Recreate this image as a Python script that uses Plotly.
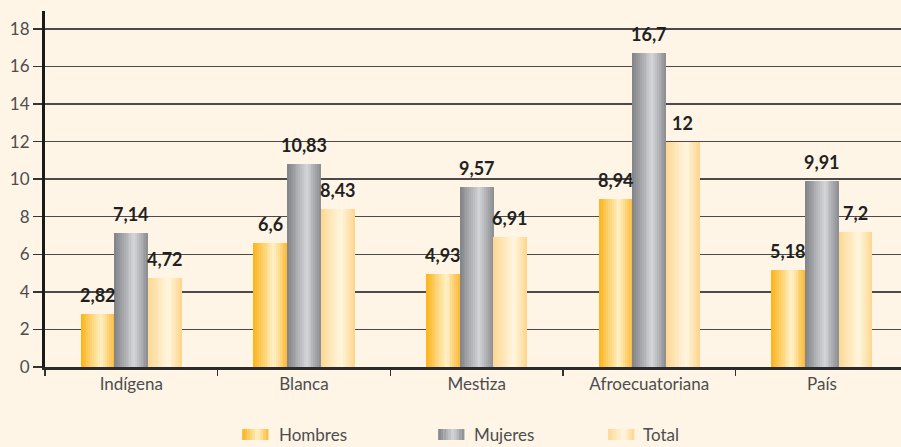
import plotly.graph_objects as go

categories = ["Indígena", "Blanca", "Mestiza", "Afroecuatoriana", "País"]
hombres = [2.82, 6.6, 4.93, 8.94, 5.18]
mujeres = [7.14, 10.83, 9.57, 16.7, 9.91]
total = [4.72, 8.43, 6.91, 12, 7.2]
series_names = ["Hombres", "Mujeres", "Total"]
y_ticks = [0, 2, 4, 6, 8, 10, 12, 14, 16, 18]

BG = "#fef5e6"
FONT = "Lato, 'Open Sans', sans-serif"

gradients = {
    "Hombres": [(0.0, (251, 179, 26)), (0.6, (255, 241, 200)), (1.0, (252, 185, 52))],
    "Mujeres": [(0.0, (128, 130, 134)), (0.58, (212, 213, 216)), (1.0, (138, 139, 143))],
    "Total": [(0.0, (253, 216, 147)), (0.6, (255, 246, 224)), (1.0, (253, 213, 138))],
}


def grad_color(stops, t):
    for (p0, c0), (p1, c1) in zip(stops[:-1], stops[1:]):
        if p0 <= t <= p1:
            f = (t - p0) / (p1 - p0) if p1 > p0 else 0
            c = [round(a + (b - a) * f) for a, b in zip(c0, c1)]
            return "rgb(%d,%d,%d)" % tuple(c)
    return "rgb(%d,%d,%d)" % stops[-1][1]


def fmt(v):
    return ("%g" % v).replace(".", ",")


# plot area target in page px
PL, PR, PT, PB = 44.75, 901, 11, 367
W, H = 901, 447
PW, PH = PR - PL, PB - PT
CAT_PX = 172.7

BAR_W = 0.195
N_STRIPS = 18
offsets = [-1.5 * BAR_W, -0.5 * BAR_W, 0.5 * BAR_W]
data = [hombres, mujeres, total]

fig = go.Figure()
annotations = []
for name, vals, off in zip(series_names, data, offsets):
    stops = gradients[name]
    sw = BAR_W / N_STRIPS
    for k in range(N_STRIPS):
        t = (k + 0.5) / N_STRIPS
        fig.add_trace(go.Bar(
            x=categories, y=vals,
            offset=off + k * sw, width=sw * 1.03,
            marker=dict(color=grad_color(stops, t), line=dict(width=0)),
            showlegend=False, hoverinfo="skip", name=name,
        ))
    for i, v in enumerate(vals):
        annotations.append(dict(
            x=i + off + BAR_W / 2, y=v, xref="x", yref="y",
            text="<b>%s</b>" % fmt(v), showarrow=False,
            yanchor="bottom", yshift=6,
            font=dict(family=FONT, size=18, color="#231f20"),
        ))

# custom gradient legend
shapes = []
legend_pos = [(242, 277), (438, 472), (608, 641)]
ly0, ly1 = 429, 440
for name, (sx, tx) in zip(series_names, legend_pos):
    stops = gradients[name]
    n = 10
    sww = 26 / n
    for k in range(n):
        t = (k + 0.5) / n
        shapes.append(dict(
            type="rect", xref="paper", yref="paper",
            x0=(sx + k * sww - PL) / PW, x1=(sx + (k + 1) * sww + 0.3 - PL) / PW,
            y0=(PB - ly1) / PH, y1=(PB - ly0) / PH,
            fillcolor=grad_color(stops, t), line=dict(width=0), layer="above",
        ))
    annotations.append(dict(
        x=(tx - PL) / PW, y=(PB - 434) / PH, xref="paper", yref="paper",
        text=name, showarrow=False, xanchor="left", yanchor="middle",
        font=dict(family=FONT, size=17, color="#4d4d4f"),
    ))

fig.update_layout(
    width=W, height=H,
    margin=dict(l=PL, r=W - PR, t=PT, b=H - PB, pad=0),
    paper_bgcolor=BG, plot_bgcolor=BG,
    barmode="overlay", bargap=0,
    showlegend=False, hovermode=False,
    annotations=annotations, shapes=shapes,
    font=dict(family=FONT, size=17, color="#4d4d4f"),
)
fig.update_xaxes(
    type="category", range=[-0.5, -0.5 + PW / CAT_PX],
    tickson="boundaries", ticks="outside", ticklen=6, tickwidth=1.5, tickcolor="#333",
    showline=True, linewidth=3, linecolor="#2b2b2b",
    showgrid=False, tickfont=dict(family=FONT, size=17, color="#4d4d4f"),
)
fig.update_yaxes(
    range=[0, 18.95], tickvals=y_ticks,
    ticks="outside", ticklen=9, tickwidth=1.5, tickcolor="#333",
    showline=True, linewidth=3, linecolor="#1a1a1a",
    showgrid=True, gridcolor="#4a4a4a", gridwidth=1.5,
    zeroline=False,
    tickfont=dict(family=FONT, size=17, color="#4d4d4f"),
)

post = (
    "document.body.style.margin='0';"
    "document.body.style.padding='0';"
    "document.body.style.overflow='hidden';"
    "document.body.style.background='%s';"
    "var gd=document.getElementById('{plot_id}');"
    "Plotly.relayout(gd,{width:%d,height:%d});" % (BG, W, H)
)

fig.write_html("out.html", post_script=post,
               config={"displayModeBar": False, "staticPlot": True})
